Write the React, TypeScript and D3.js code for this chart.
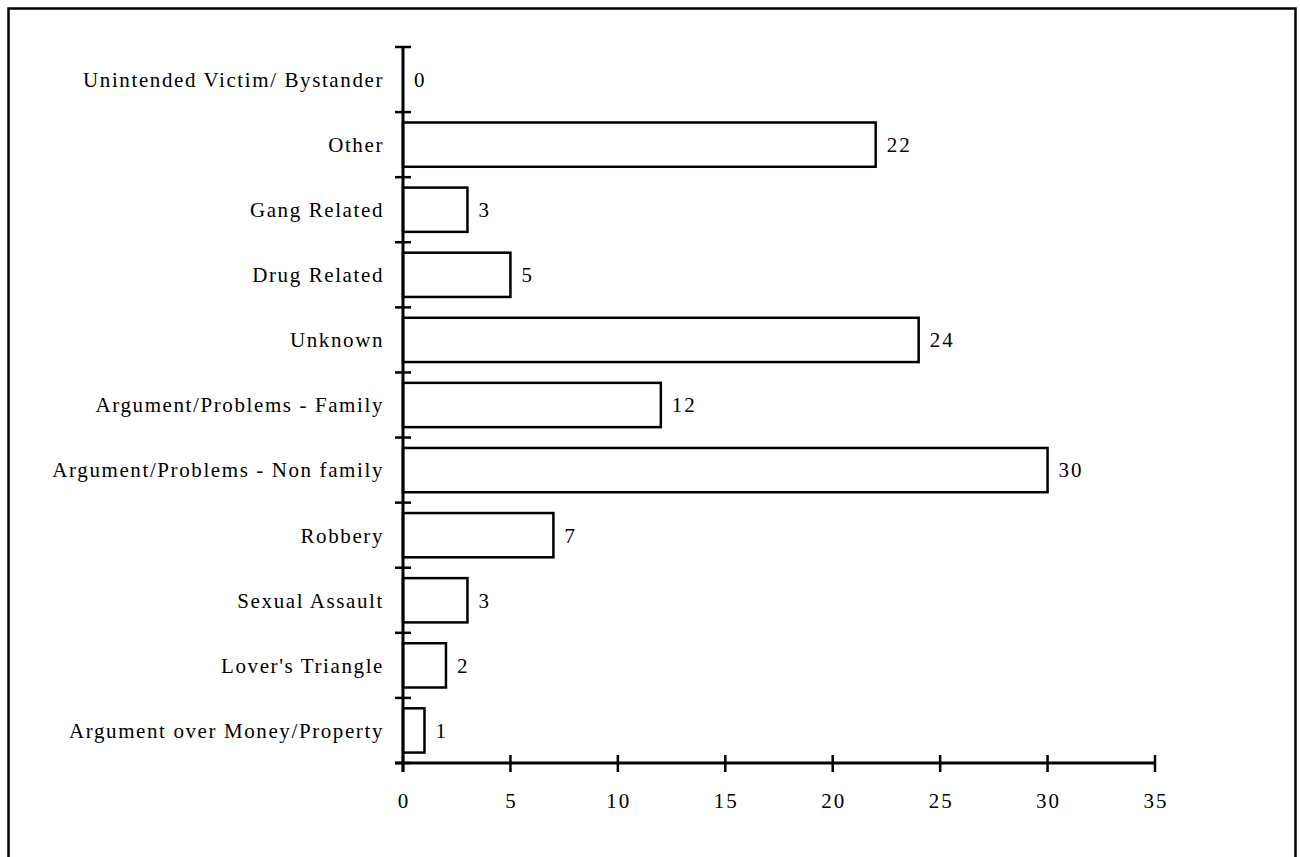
import React from "react";
import * as d3 from "d3";

const categories = [
  "Unintended Victim/ Bystander",
  "Other",
  "Gang Related",
  "Drug Related",
  "Unknown",
  "Argument/Problems - Family",
  "Argument/Problems - Non family",
  "Robbery",
  "Sexual Assault",
  "Lover's Triangle",
  "Argument over Money/Property",
];
const values = [0, 22, 3, 5, 24, 12, 30, 7, 3, 2, 1];
const xTicks = [0, 5, 10, 15, 20, 25, 30, 35];

export default function App() {
  const W = 1300, H = 857;
  const x0 = 403, x1 = 1155, yTop = 47, yBot = 763;
  const x = d3.scaleLinear().domain([0, 35]).range([x0, x1]);
  const y = d3.scaleBand<string>().domain(categories).range([yTop, yBot]).paddingInner(0.32).paddingOuter(0.16);
  const step = (yBot - yTop) / categories.length;
  const font = "'Liberation Serif', 'Times New Roman', serif";
  return (
    <svg width={W} height={H} style={{ position: "absolute", left: 0, top: 0 }}>
      <rect x={8.5} y={8.5} width={1287} height={870} fill="white" stroke="black" strokeWidth={2.5} />
      {categories.map((c, i) => (
        <g key={c}>
          <rect x={x(0)} y={y(c)} width={x(values[i]) - x(0)} height={y.bandwidth()} fill="white" stroke="black" strokeWidth={2.5} />
          <text x={x(values[i]) + 11} y={y(c)! + y.bandwidth() / 2} dy="0.35em" fontFamily={font} fontSize={21} letterSpacing={2}>{values[i]}</text>
          <text x={x(0) - 19} y={y(c)! + y.bandwidth() / 2} dy="0.35em" textAnchor="end" fontFamily={font} fontSize={21} letterSpacing={1.6}>{c}</text>
        </g>
      ))}
      {d3.range(categories.length + 1).map((i) => (
        <line key={i} x1={x0 - 8} x2={x0 + 8} y1={yTop + i * step} y2={yTop + i * step} stroke="black" strokeWidth={2.5} />
      ))}
      <line x1={x0} x2={x0} y1={yTop} y2={yBot + 9} stroke="black" strokeWidth={3} />
      <line x1={x0 - 8} x2={x1} y1={yBot} y2={yBot} stroke="black" strokeWidth={3} />
      {xTicks.map((t) => (
        <g key={t}>
          <line x1={x(t)} x2={x(t)} y1={yBot - 8} y2={yBot + 9} stroke="black" strokeWidth={2.5} />
          <text x={x(t) + 1} y={801} dy="0.35em" textAnchor="middle" fontFamily={font} fontSize={21} letterSpacing={2}>{t}</text>
        </g>
      ))}
    </svg>
  );
}
